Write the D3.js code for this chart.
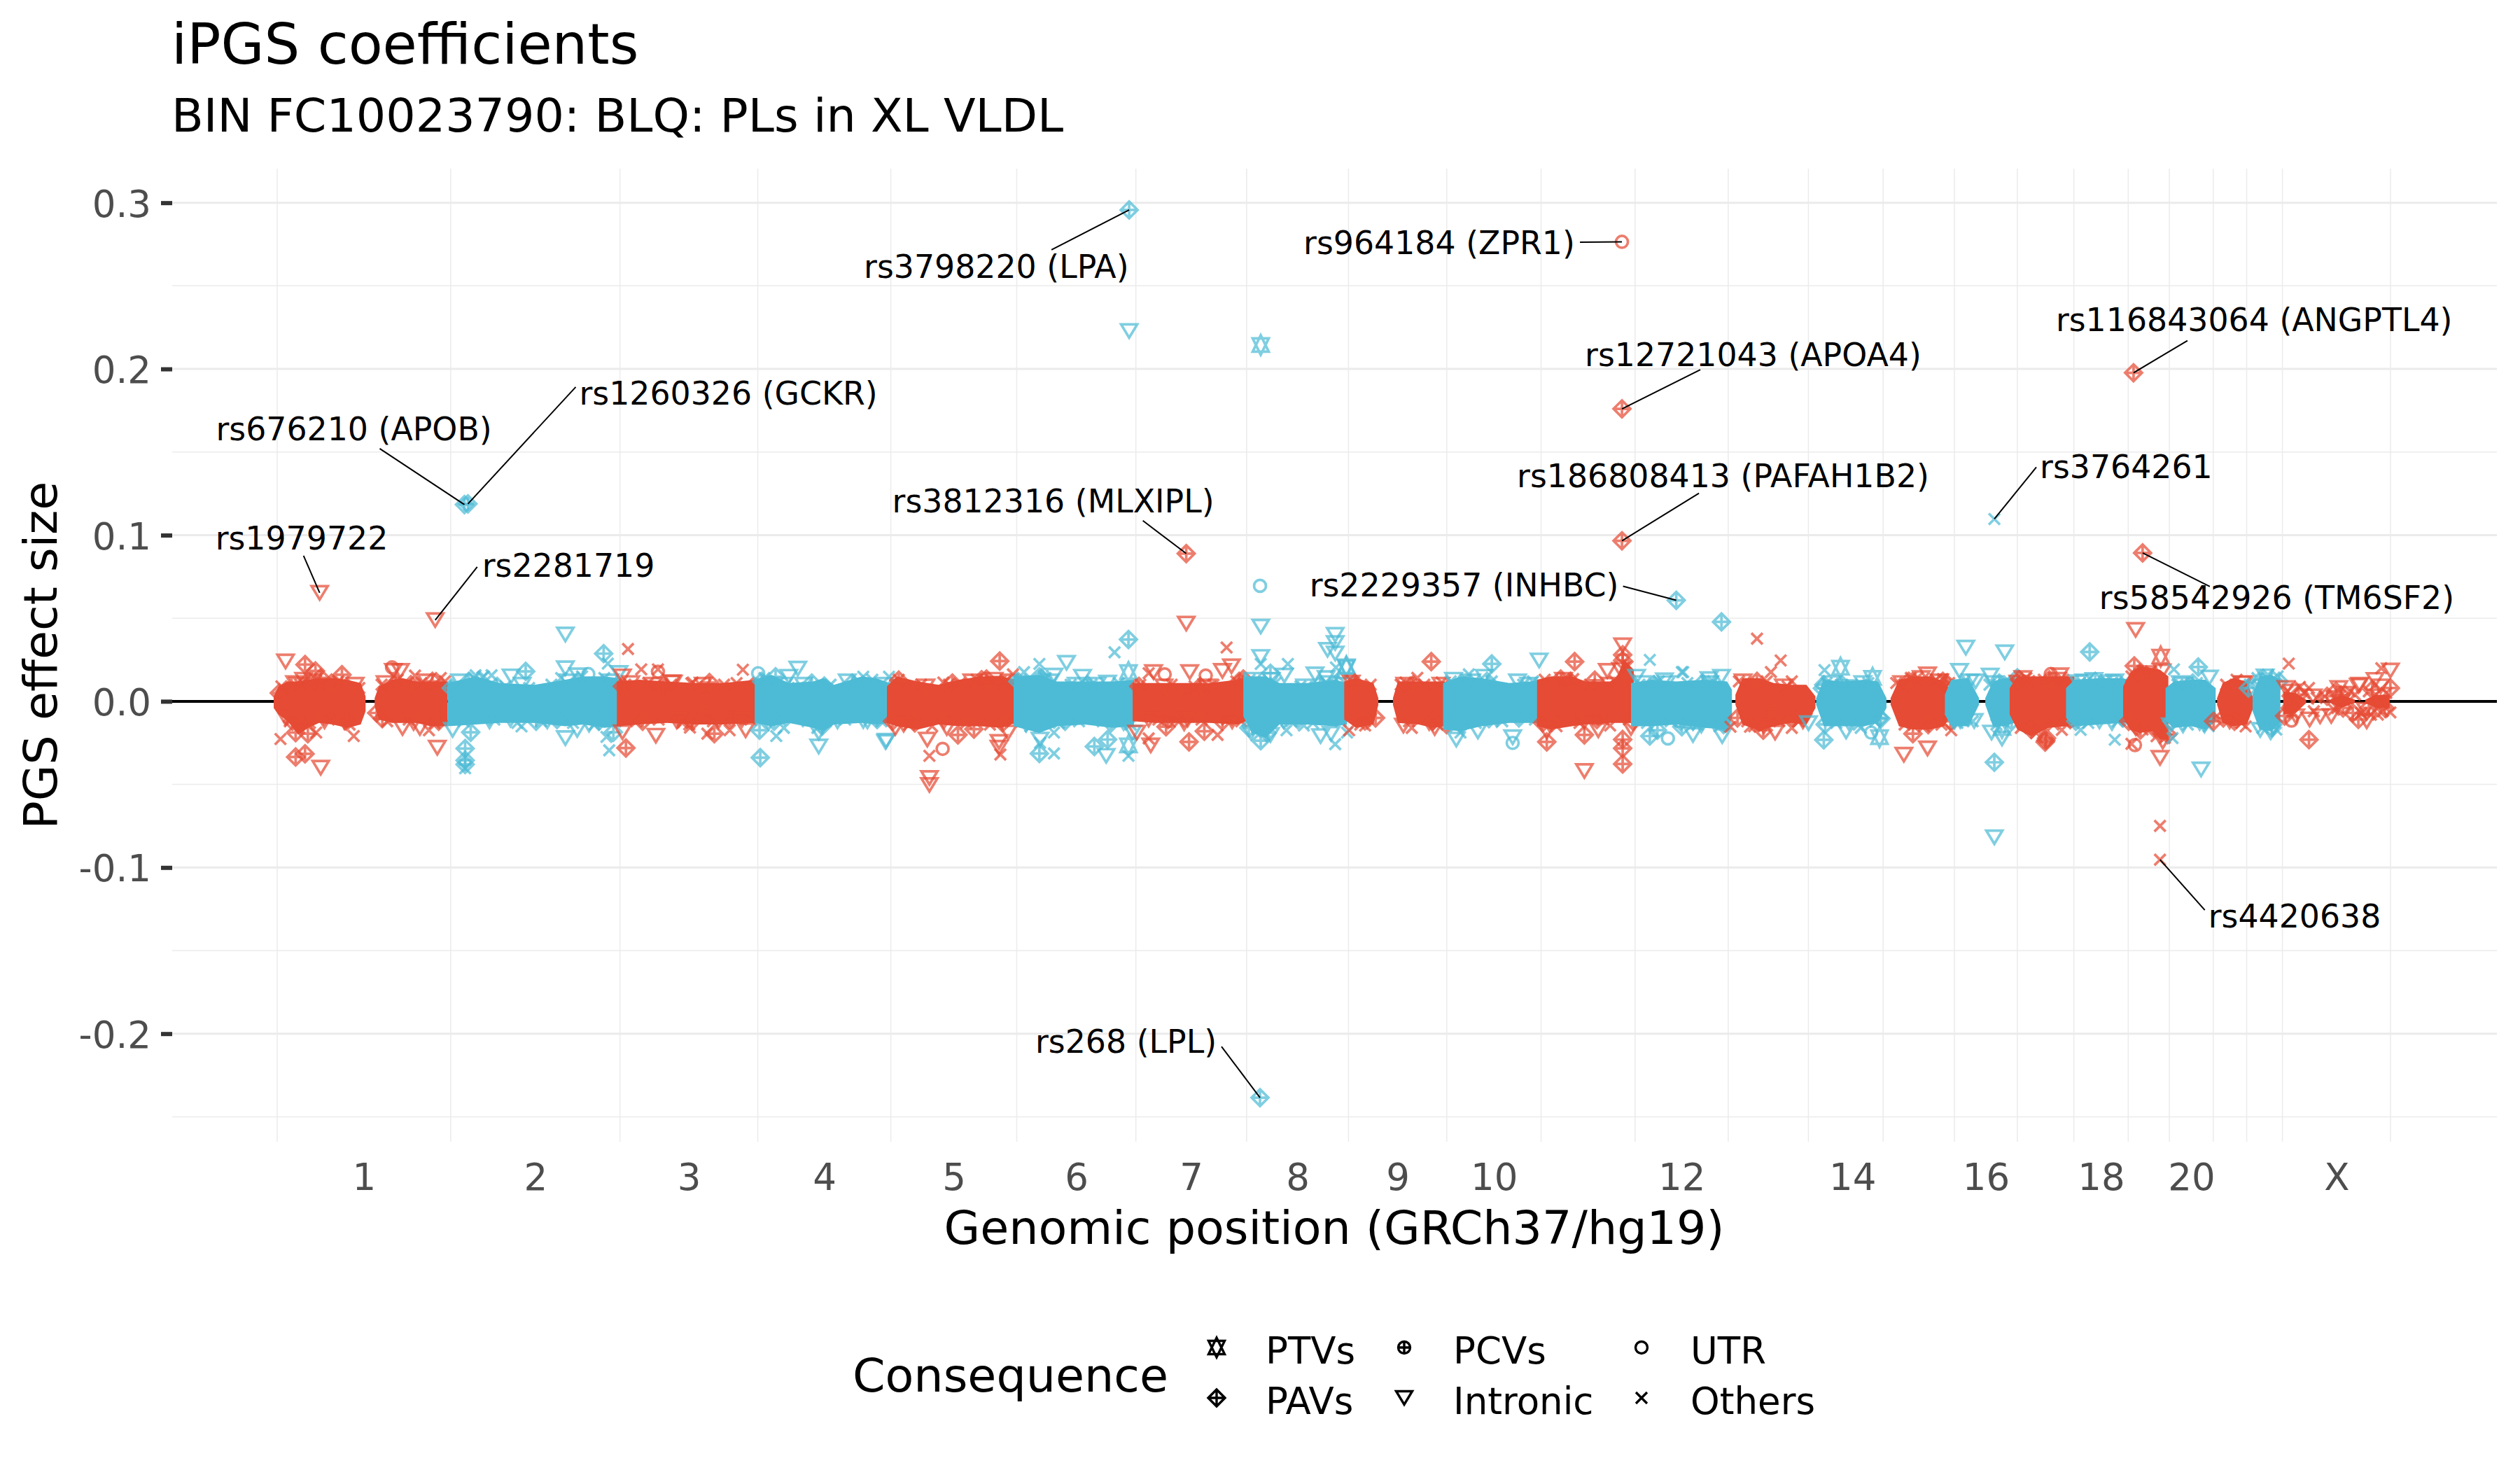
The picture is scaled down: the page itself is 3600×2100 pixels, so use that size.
<!DOCTYPE html>
<html><head><meta charset="utf-8">
<script src="https://cdn.jsdelivr.net/npm/d3@7"></script>
<style>html,body{margin:0;background:#fff}svg{display:block;font-family:"DejaVu Sans",sans-serif}</style>
</head><body><svg id="c" width="3600" height="2100"></svg>
<script>
// Chromosome lengths (Mb, GRCh37)
const chromosomes=["1","2","3","4","5","6","7","8","9","10","11","12","13","14","15","16","17","18","19","20","21","22","X"];
const chromLengths=[249.25,243.2,198,191.15,180.9,171.1,159.1,146.4,141.2,135.5,135,133.85,115.2,107.35,102.5,90.35,81.2,78.1,59.1,63,48.1,51.3,155.3];
const chromFirstMb=[0,0,0,0,0,0,0,0,0,0,0,0,0,19,0,0,0,0,0,0,0,0,0];
const chromLabels=["1","2","3","4","5","6","7","8","9","10","","12","","14","","16","","18","","20","","","X"];
const yMajor=[-0.2,-0.1,0,0.1,0.2,0.3];
const yMinor=[-0.25,-0.15,-0.05,0.05,0.15,0.25];
const consequenceNames=["PTVs","PAVs","PCVs","Intronic","UTR","Others"];

// Markers: [cumulative Mb, effect size]
const ptvs=[[1413,.2144],[1536,.0211],[1536,.0204],[1223,.0176],[1223,-.0265],[2246,.0202],[2292,.0141],[2302,-.0216],[2706,.0269],[2478,-.016]];
const pavs=[[1224,.2957],[1932,.176],[1932,.0966],[2667,.1977],[2680,.0893],[2010,.0608],[2075,.0478],[1306,.0889],[269,.1184],[274,.1188],[1412,-.2385],
[40,.0221],[55,.0183],[62.5,.0141],[93,.016],[223,.012],[26.5,-.0335],[40,-.0316],[44,-.0195],[26.5,-.0188],[151,-.0104],
[469,.0287],[357,.018],[278,-.0186],[270,-.0284],[270,-.038],[270,-.0355],[483,-.0186],[501,-.0281],
[716,.0148],[621,.0113],[786,.0092],[694,-.0339],[693,-.0174],[628,-.0195],
[1038,.0242],[1095,.0148],[893,.0127],[1019,.0134],[978,-.0202],[1001,-.0167],[1095,-.0314],[1174,-.0272],[1193,-.023],[1223,.0372],
[1388,.0134],[1427,.0169],[1277,-.0153],[1310,-.0244],[1332,-.018],[1413,-.0237],
[1658,.0239],[1745,.0225],[1864,.0239],[1844,.0134],[1893,.0127],[1933,.028],[1933,.0246],[1741,-.0104],[1824,-.0244],[1878,-.0202],[1933,-.023],[1933,-.0283],[1933,-.0377],[1972,-.0209],[1983,-.0174],[2018,-.0153],
[2135,-.0174],[2220,.0078],[2224,-.0139],[2222,-.0232],[2304,-.0104],[2350,-.0195],[2393,.012],[2467,-.0367],[2500,.0141],
[2604,.0297],[2668,.0213],[2760,.0206],[2541,-.0235],[2542,-.0222],[2540,-.0245],[2677,-.0172],[2884,-.0088],[2919,-.0231],[2965,.0038],[2990,-.0109],[3036,.008],[2945,.003],[3005,-.004]];
const pcvs=[[1310,.0062],[2146,-.006],[612,-.006]];
const intronic=[[61,.0653],[227,.0489],[1224,.2228],[1306,.0468],[1413,.045],[2467,-.0818],
[12,.024],[38,.013],[30,.010],[167,.0183],[177,.0183],[62.5,-.0399],[180,-.016],[205,-.016],[230,-.0279],[252,-.0172],
[414,.0402],[414,.0199],[336,.015],[432,.0157],[491,.0171],[496,.015],[414,-.0221],[431,-.0172],[496,-.0186],[544,-.0207],[567,.0115],[569,.0113],
[748,.0197],[735,.0148],[819,.012],[778,-.0272],[874,-.0244],[842,-.0118],[778,-.0188],[673,-.0174],[577,-.011],
[1520,.04],[1520,.0351],[1509,.031],[1520,.0288],[1413,.0267],[1447,.0155],[1491,.0162],[1507,.014],[1134,.0232],[1116,.0155],[1157,.0148],[1193,.0113],[1259,.0176],[1311,.0176],[1371,.0211],[1358,.0183],[1034,.0106],
[937,-.0461],[937,-.0503],[934,-.023],[888,-.016],[962,-.016],[1037,-.0244],[1037,-.0279],[1050,-.0188],[875,-.0237],[1096,-.023],[1191,-.0328],[1229,-.0188],[1235,-.0188],[1255,-.0265],[1303,-.0132],[1427,-.0202],[1399,-.0188],[1499,-.0209],[1514,-.0195],
[1543,.0113],[1734,.0148],[1813,.0246],[1782,.012],[1911,.0183],[1933,.0337],[1953,.0148],[1993,.0127],[1618,-.0146],[1663,-.016],[1694,-.023],[1725,-.0181],[1775,-.0216],[1824,-.0181],[1878,-.0419],[1898,-.0174],[1945,-.016],[2034,-.0202],
[2057,.0134],[2075,.0148],[2252,.0085],[2371,.0162],[2426,.0323],[2482,.0295],[2417,.0183],[2461,.0155],[2440,.012],[2501,.0113],[2046,-.0146],[2076,-.0209],[2152,-.0188],[2200,-.0132],[2254,-.0181],[2337,-.0321],[2371,-.0283],[2418,-.0118],[2438,-.0118],[2463,-.0188],[2478,-.0223],
[2561,.0157],[2587,.0115],[2610,.0129],[2633,.0115],[2670,.043],[2738,.0101],[2776,.0143],[2823,.0108],[2894,.0059],[2925,.003],[2990,.0094],[3014,.0129],[3036,.0185],
[2636,-.013],[2705,-.034],[2709,-.0242],[2720,-.0144],[2764,-.041],[2738,-.0144],[2769,-.0144],[2864,-.0186],[2849,-.0172],[2920,-.0109],[2951,-.0088],[2972,.0045],[3000,-.005]];
const utr=[[1932,.2765],[1412,.0695],[165,.0204],[32.5,-.0118],[447,.0164],[547,.0178],[691,.0169],[956,-.0286],[1275,.0162],[1334,.0155],[1775,-.025],[1998,-.0223],[2290,-.0188],[2548,.0164],[2577,-.0116],[2669,-.0263],[2894,-.0116]];
const others=[[2467,.1097],[1364,.0324],[2705,-.0953],[2705,-.075],[198,.0155],[235,.014],[4.7,-.0227],[56,-.0188],[110,-.0209],[218,-.0174],
[308,.0157],[285,.0157],[295,.0145],[504,.0315],[475,.0227],[523,.0192],[547,.0192],[595,.0108],[270,-.0403],[351,-.0151],[473,-.0214],[477,-.0295],[593,-.0158],
[669,.019],[597,.0113],[842,.0148],[879,.0148],[717,-.0209],[728,-.016],[618,-.0195],[650,-.0174],[592,-.0139],
[1203,.0295],[1521,.0204],[1413,.0225],[1452,.0225],[1095,.0225],[1073,.0176],[1057,.0162],[1252,.0169],[957,.0113],[980,.0106],
[937,-.0328],[1039,-.032],[1096,-.025],[1116,-.0314],[1116,-.0188],[1223,-.0328],[1252,-.0223],[1351,-.0202],[1450,-.0174],[1475,-.0146],[1520,-.0258],[1537,-.0188],[1563,-.0146],
[1638,.0141],[1621,.0113],[1673,.0113],[1712,.0162],[1804,.012],[1862,.0134],[1972,.0249],[2018,.0176],[1540,-.0174],[1563,-.0118],[1630,-.016],[1700,-.0188],[1915,-.0146],
[2126,.0377],[2160,.0246],[2146,.0176],[2176,.012],[2020,.0176],[2223,.0188],[2347,.0141],[2393,.0134],[2088,-.0153],[2116,-.0153],[2176,-.016],[2275,-.016],[2405,-.0174],
[2517,.0122],[2725,.0192],[2859,.0136],[2874,.015],[2890,.0227],[2906,.0087],[2919,.008],[3023,.0199],
[2564,-.0172],[2591,-.0172],[2640,-.0231],[2664,-.0256],[2723,-.0221],[2828,-.0151],[3008,-.0081],[3036,-.0067],[2930,.002],[2960,-.004],[2985,.004],[3015,.004],[3025,-.006]];

// Markers along the crowded edge of the band: hand estimates, since single values cannot be read there
const edgeOthers=[[6,.009],[18,-.012],[33,.010],[47,-.013],[61,.009],[74,-.011],[88,.012],[104,-.014],[118,.008],[150,.010],[158,-.012],[173,.013],[189,-.011],[207,.011],[226,-.013],[241,.012],
[256,.009],[268,-.012],[283,.014],[297,.015],[312,-.011],[328,.009],[345,-.013],[362,.008],[379,-.012],[394,.010],[408,.014],[425,-.013],[438,.015],[456,-.014],[470,.014],[486,-.012],
[500,.010],[516,-.012],[533,.011],[548,-.011],[566,.010],[582,-.013],[603,.009],[626,-.012],[642,.010],[660,.011],[680,-.011],
[700,.014],[722,-.011],[748,.008],[762,-.012],[776,-.016],[795,.010],[816,-.011],[835,.012],[855,.013],[868,-.012],
[893,.013],[908,-.014],[925,.010],[941,-.015],[965,.010],[990,-.013],[1005,.013],[1024,-.014],[1046,.012],[1056,-.012],
[1068,.013],[1082,-.015],[1104,.014],[1123,-.013],[1140,.010],[1152,-.012],[1170,.010],[1186,-.012],[1209,.011],[1226,-.014],
[1240,.010],[1266,-.011],[1285,.010],[1296,-.012],[1318,.009],[1328,-.011],[1345,.010],[1365,-.011],[1378,.012],[1385,-.012],
[1397,.013],[1408,-.017],[1418,-.018],[1434,.011],[1457,-.012],[1470,.009],[1488,-.013],[1505,.011],[1528,-.012],
[1544,.012],[1556,-.014],[1571,.010],[1614,.010],[1626,-.012],[1648,.010],[1667,-.014],
[1686,.012],[1693,-.015],[1708,.013],[1722,-.013],[1745,.012],[1760,-.012],[1790,.010],[1807,-.011],
[1821,.013],[1838,-.015],[1853,.013],[1871,-.013],[1886,.010],[1905,-.011],[1922,.012],[1940,.021],[1942,-.011],
[1957,.010],[1968,-.013],[1985,.012],[2002,-.012],[2026,.011],[2041,-.014],[2063,.012],[2072,-.015],
[2100,.012],[2112,-.012],[2122,-.015],[2140,.012],[2158,-.012],[2170,.009],[2186,-.012],
[2226,.011],[2240,-.013],[2262,.010],[2272,-.014],[2286,.011],[2296,-.012],
[2326,.011],[2338,-.014],[2356,.014],[2366,-.015],[2383,.013],[2391,-.014],
[2402,.011],[2414,-.013],[2424,.012],[2436,-.012],[2460,.010],[2470,-.014],[2488,.012],
[2496,.012],[2505,-.016],[2513,.014],[2527,-.019],[2538,.013],[2552,-.014],[2566,.013],
[2590,.011],[2602,-.013],[2628,.012],[2644,-.012],[2655,.012],
[2664,.015],[2680,-.017],[2692,.018],[2700,-.021],[2712,-.022],
[2730,.010],[2745,-.014],[2758,.011],[2775,-.015],
[2800,.010],[2815,.013],[2822,-.013],[2834,.010],
[2845,.014],[2852,-.016],[2860,.016],[2872,-.017],
[2888,.006],[2897,-.007],[2912,.005],[2926,-.006],[2942,.003],[2955,-.005],[2978,.006],[2994,-.007],[3005,.006],[3018,-.008],[3030,.005]];
const edgeIntronic=[[12,-.010],[25,.011],[52,.012],[68,-.012],[96,-.012],[112,.010],[155,.011],[196,-.013],[214,.012],
[262,.012],[305,-.012],[335,-.011],[352,.010],[388,-.012],[418,.012],[448,-.014],[478,.012],
[508,.011],[540,.010],[574,-.012],[612,.010],[634,-.012],[668,-.011],
[706,-.013],[728,.010],[756,.010],[805,-.012],[848,-.012],[872,.010],
[900,-.014],[932,.009],[958,-.012],[998,.012],[1030,.013],[1052,.012],
[1076,-.014],[1110,.012],[1148,.010],[1178,.010],[1216,-.013],
[1252,-.011],[1274,.009],[1308,-.011],[1336,.009],[1372,-.012],
[1402,.013],[1428,.013],[1446,-.012],[1476,.009],[1512,.011],[1532,.010],
[1566,-.012],[1620,.010],[1655,-.013],[1672,.010],
[1690,.013],[1716,.012],[1752,-.011],[1798,.010],
[1828,-.014],[1848,.013],[1878,-.012],[1914,.010],[1930,.019],
[1962,.011],[1996,.011],[2034,-.013],[2058,.011],
[2106,.012],[2136,-.015],[2164,.009],[2192,-.012],
[2232,.011],[2258,-.013],[2278,.011],
[2334,.011],[2362,.014],[2388,.012],
[2410,-.012],[2432,.012],[2466,.011],[2482,-.012],
[2508,.014],[2534,-.016],[2558,.013],
[2596,.012],[2618,-.012],[2640,.012],
[2670,-.016],[2686,.017],[2708,.018],
[2734,.011],[2762,-.013],
[2805,-.012],[2826,.011],
[2856,.015],[2868,-.016],
[2886,.008],[2900,-.009],[2935,-.009],[2962,.008],[3002,-.012],[3022,.009],[2992,.010]];
const edgePavs=[[3,.005],[22,-.012],[42,.011],[78,.011],[100,-.012],[143,-.007],[170,.011],[192,.010],[232,-.012],
[250,.008],[275,.012],[316,.009],[372,-.012],[402,-.011],[432,.012],[462,-.012],
[496,.009],[525,-.012],[555,.009],[596,-.012],[650,-.011],[684,.009],
[696,.012],[714,-.012],[768,.011],[783,-.015],[826,.011],[862,-.011],
[884,-.012],[916,-.013],[970,.011],[1012,.013],[1042,-.013],
[1064,.012],[1098,.014],[1132,-.012],[1164,.010],[1198,-.013],
[1238,.009],[1280,-.011],[1326,.009],[1358,-.012],[1382,.012],
[1396,-.016],[1422,-.019],[1466,-.011],[1498,.010],[1522,.011],
[1548,.011],[1578,-.010],[1632,.010],[1660,-.012],
[1680,-.014],[1702,-.014],[1738,.012],[1784,-.010],
[1818,-.013],[1858,.012],[1896,-.011],[1938,.015],
[1948,-.012],[1978,.010],[2016,-.012],[2048,.011],[2078,-.014],
[2098,-.010],[2126,.012],[2178,-.010],
[2222,.010],[2248,.010],[2302,-.010],
[2344,.012],[2372,-.014],[2398,.011],
[2404,-.012],[2474,.011],[2492,-.012],
[2503,.013],[2520,-.017],[2546,.013],[2576,-.011],
[2584,-.012],[2612,.012],[2652,-.010],
[2660,-.012],[2676,.017],[2696,-.016],[2716,-.020],
[2722,-.012],[2752,.011],[2782,-.012],
[2796,-.010],[2812,-.012],[2832,.008],
[2850,.013],[2866,-.016],[2876,.012],
[2892,-.004],[2904,.004],[2958,.006],[2968,-.004],[2982,-.007],[3010,.007],[3028,-.004]];

// Solid core of each chromosome, where single markers cannot be told apart: [cumulative Mb, upper, lower]
const bandEdges=[
[[-5,.003,-.004],[2,.009,-.008],[15,.012,-.012],[30,.012,-.020],[45,.013,-.016],[60,.014,-.013],[80,.014,-.014],[100,.013,-.016],[120,.011,-.014],[127,.003,-.006],null,[140,.002,-.003],[146,.009,-.011],[165,.013,-.013],[180,.014,-.013],[200,.012,-.013],[220,.012,-.015],[245,.012,-.015]],
[[245,.011,-.015],[285,.015,-.014],[320,.011,-.013],[370,.010,-.013],[414,.013,-.015],[440,.015,-.014],[470,.015,-.016],[490,.014,-.015]],
[[488,.012,-.015],[520,.013,-.014],[560,.012,-.013],[600,.011,-.014],[640,.011,-.014],[688,.013,-.013]],
[[686,.013,-.013],[710,.016,-.015],[735,.011,-.013],[770,.012,-.016],[785,.014,-.018],[800,.010,-.014],[840,.015,-.013],[860,.014,-.014],[880,.011,-.013]],
[[876,.009,-.013],[890,.015,-.015],[920,.012,-.017],[950,.010,-.014],[980,.013,-.015],[1010,.015,-.015],[1040,.015,-.016],[1061,.013,-.013]],
[[1058,.015,-.015],[1095,.016,-.019],[1120,.012,-.015],[1160,.012,-.014],[1200,.012,-.016],[1231,.013,-.015]],
[[1229,.011,-.012],[1260,.011,-.013],[1300,.011,-.013],[1340,.011,-.013],[1380,.013,-.014],[1392,.015,-.012]],
[[1388,.015,-.009],[1400,.015,-.019],[1420,.015,-.022],[1440,.011,-.014],[1480,.011,-.014],[1520,.013,-.015],[1537,.011,-.014]],
[[1533,.012,-.011],[1550,.014,-.016],[1575,.011,-.014],[1582,.002,-.002],null,[1603,.002,-.002],[1610,.012,-.013],[1640,.012,-.014],[1660,.012,-.016],[1678,.012,-.015]],
[[1675,.011,-.017],[1700,.015,-.018],[1730,.014,-.015],[1770,.011,-.013],[1800,.012,-.013],[1814,.013,-.013]],
[[1810,.013,-.015],[1830,.015,-.017],[1860,.015,-.015],[1880,.012,-.014],[1915,.012,-.013],[1925,.015,-.013],[1935,.025,-.013],[1949,.019,-.013]],
[[1945,.011,-.015],[1975,.013,-.015],[2010,.012,-.014],[2050,.013,-.016],[2083,.012,-.017],[2090,.007,-.010]],
[[2095,.004,-.002],[2105,.014,-.014],[2130,.014,-.018],[2150,.011,-.015],[2175,.010,-.013],[2197,.010,-.014],[2210,.003,-.004]],
[[2211,.002,-.002],[2222,.013,-.015],[2250,.012,-.015],[2280,.013,-.015],[2300,.012,-.013],[2312,.002,-.004]],
[[2318,.002,-.002],[2330,.013,-.015],[2350,.015,-.017],[2375,.015,-.017],[2395,.012,-.015],[2408,.004,-.006]],
[[2396,.004,-.008],[2405,.013,-.015],[2430,.014,-.015],[2445,.002,-.002],null,[2454,.002,-.002],[2465,.012,-.015],[2480,.014,-.015],[2496,.014,-.013]],
[[2489,.008,-.008],[2500,.015,-.017],[2520,.015,-.021],[2545,.015,-.016],[2570,.015,-.015],[2582,.015,-.013]],
[[2570,.008,-.010],[2582,.013,-.015],[2620,.014,-.014],[2650,.014,-.013],[2660,.013,-.013]],
[[2652,.009,-.010],[2662,.017,-.017],[2675,.021,-.019],[2695,.020,-.018],[2705,.019,-.023],[2717,.015,-.023]],
[[2713,.008,-.012],[2725,.012,-.016],[2750,.013,-.015],[2770,.013,-.017],[2785,.008,-.012]],
[[2787,.002,-.002],[2795,.011,-.013],[2810,.014,-.015],[2830,.012,-.014],[2838,.003,-.005]],
[[2838,.004,-.006],[2848,.015,-.017],[2865,.016,-.018],[2878,.013,-.013]],
[[2882,.006,-.008],[2900,.005,-.007],[2915,.001,-.001],null,[2950,.001,-.001],[2965,.004,-.004],[2985,.001,-.001],null,[3000,.001,-.001],[3015,.004,-.004],[3035,.004,-.004]]
];

// Annotated variants
const labelNames=["rs3798220 (LPA)","rs964184 (ZPR1)","rs12721043 (APOA4)","rs116843064 (ANGPTL4)","rs1260326 (GCKR)","rs676210 (APOB)","rs186808413 (PAFAH1B2)","rs3764261","rs3812316 (MLXIPL)","rs1979722","rs2281719","rs2229357 (INHBC)","rs58542926 (TM6SF2)","rs268 (LPL)","rs4420638"];
const labelPos=[1224,1932,1932,2667,274,269,1932,2467,1306,61,227,2010,2680,1412,2705];
const labelBeta=[.2957,.2765,.176,.1977,.1188,.1184,.0966,.1097,.0889,.0653,.0489,.0608,.0893,-.2385,-.0953];
// Label layout, in pixels from the marker: text dx, dy, connector dx, dy
const labelLayout=[[-379,97,-111,57],[-455,17.5,-60,.5],[-53,-61,112,-56],[-111,-60,77,-46],[159,-142,154,-167],[-355,-92,-121,-80],[-150,-77,110,-68],[65,-58,60,-74],[-420,-59,-62,-47],[-149,-62,-23,-53],[67,-62,60,-76],[-524,-6,-76,-20],[-62,80,96,48],[-321,-64,-55,-73],[69,97,64,72]];

const RED="#E64B35",BLUE="#4DBBD5";
const P={l:246,r:3567,t:241,b:1631};
const total=d3.sum(chromLengths);
const starts=d3.cumsum([0,...chromLengths]);
const x=d3.scaleLinear().domain([0,total]).range([396,3415]);
const y=d3.scaleLinear().domain([-.265,.3205]).range([1631,241]);
const svg=d3.select("#c");
svg.append("rect").attr("width",3600).attr("height",2100).attr("fill","#fff");

const hl=(v,w)=>svg.append("line").attr("x1",P.l).attr("x2",P.r).attr("y1",y(v)).attr("y2",y(v)).attr("stroke","#ebebeb").attr("stroke-width",w);
yMinor.forEach(v=>hl(v,1.5));
yMajor.forEach(v=>hl(v,3));
starts.forEach(s=>svg.append("line").attr("x1",x(s)).attr("x2",x(s)).attr("y1",P.t).attr("y2",P.b).attr("stroke","#ebebeb").attr("stroke-width",1.5));
svg.append("line").attr("x1",P.l).attr("x2",P.r).attr("y1",y(0)).attr("y2",y(0)).attr("stroke","#000").attr("stroke-width",4);

// Marker shapes
const tri=(h,w,dir)=>`M${-w},${-dir*h}L${w},${-dir*h}L0,${dir*h}Z`;
const circ=r=>`M${-r},0A${r},${r} 0 1,1 ${r},0A${r},${r} 0 1,1 ${-r},0Z`;
const shapes={
 PTVs:`M0,-14L11.5,9.5L-11.5,9.5ZM0,14L11.5,-9.5L-11.5,-9.5Z`,
 PAVs:`M0,-12L12,0L0,12L-12,0ZM-12,0L12,0M0,-12L0,12`,
 PCVs:circ(8.5)+`M-8.5,0L8.5,0M0,-8.5L0,8.5`,
 Intronic:tri(9.5,11.5,1),
 UTR:circ(8.5),
 Others:`M-8,-8L8,8M-8,8L8,-8`
};
const series={PTVs:ptvs,PAVs:pavs.concat(edgePavs),PCVs:pcvs,Intronic:intronic.concat(edgeIntronic),UTR:utr,Others:others.concat(edgeOthers)};
const chromOf=p=>Math.max(0,Math.min(22,d3.bisectRight(starts,p)-1));
const points=[];
consequenceNames.forEach(n=>series[n].forEach(d=>points.push({pos:d[0],beta:d[1],shape:n,chr:chromOf(d[0])})));

const area=d3.area().defined(d=>d).x(d=>x(d[0])).y0(d=>y(d[2])).y1(d=>y(d[1])).curve(d3.curveLinear);
chromosomes.forEach((c,i)=>{
 const col=i%2?BLUE:RED;
 const g=svg.append("g").attr("class","chr");
 g.append("path").attr("d",area(bandEdges[i])).attr("fill",col);
 g.selectAll("path.m").data(points.filter(p=>p.chr===i)).join("path").attr("class","m")
  .attr("d",d=>shapes[d.shape]).attr("transform",d=>`translate(${x(d.pos)},${y(d.beta)})`)
  .attr("fill","none").attr("stroke",col).attr("stroke-width",3.7).attr("stroke-opacity",.72);
});

// Axes
const yAxis=d3.axisLeft(y).tickValues(yMajor).tickSize(16).tickPadding(14).tickFormat(d=>d.toFixed(1));
const ga=svg.append("g").attr("transform",`translate(${P.l},0)`).call(yAxis);
ga.select(".domain").remove();
ga.selectAll("line").attr("stroke","#333").attr("stroke-width",6);
ga.selectAll("text").attr("fill","#4d4d4d").attr("font-size",53).attr("font-family","DejaVu Sans").attr("dy","0.37em");
const mids=chromLengths.map((l,i)=>starts[i]+(chromFirstMb[i]+l)/2);
const xAxis=d3.axisBottom(x).tickValues(mids).tickSize(0).tickPadding(0).tickFormat((d,i)=>chromLabels[i]);
const gb=svg.append("g").attr("transform",`translate(0,1700)`).call(xAxis);
gb.select(".domain").remove();
gb.selectAll("text").attr("fill","#4d4d4d").attr("font-size",53).attr("font-family","DejaVu Sans").attr("dy",0);

const T=(s,xx,yy,fs,o={})=>svg.append("text").text(s).attr("x",xx).attr("y",yy).attr("font-size",fs).attr("fill",o.fill||"#000").attr("text-anchor",o.anchor||"start").attr("transform",o.rot?`rotate(-90,${xx},${yy})`:null);
T("iPGS coefficients",245,91,80);
T("BIN FC10023790: BLQ: PLs in XL VLDL",245,188,66.7);
T("Genomic position (GRCh37/hg19)",1906,1777,66.7,{anchor:"middle"});
T("PGS effect size",81,936,66.7,{anchor:"middle",rot:true});

// Annotations
labelNames.forEach((n,i)=>{
 const px=x(labelPos[i]),py=y(labelBeta[i]),[tx,ty,lx,ly]=labelLayout[i];
 svg.append("line").attr("x1",px+lx).attr("y1",py+ly).attr("x2",px).attr("y2",py).attr("stroke","#000").attr("stroke-width",2);
 T(n,px+tx,py+ty,45.8);
});

// Legend
T("Consequence",1218,1988,66.7);
const legendCols=[1738,2006,2345],legendLabelX=[1808,2076,2415],legendRows=[1925,1997];
consequenceNames.forEach((n,i)=>{
 const c=Math.floor(i/2),r=i%2;
 svg.append("path").attr("d",shapes[n]).attr("transform",`translate(${legendCols[c]},${legendRows[r]})`).attr("fill","none").attr("stroke","#000").attr("stroke-width",3.4);
 T(n,legendLabelX[c],legendRows[r]+23,53);
});
</script></body></html>
